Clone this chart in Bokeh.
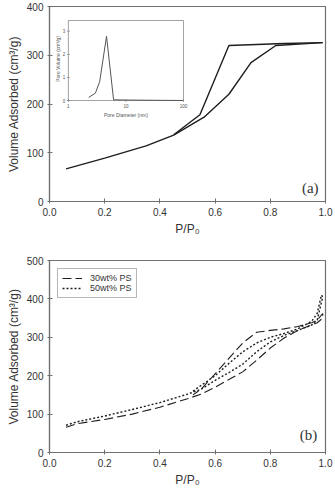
import math
from bokeh.plotting import figure
from bokeh.layouts import column
from bokeh.models import (Range1d, LogScale, Label, Legend, LegendItem,
                          FixedTicker, NumeralTickFormatter)
from bokeh.core.properties import value
from bokeh.embed import file_html
from bokeh.resources import INLINE

# ---------------- data ----------------
# (a) isotherm
ads_p = [0.06, 0.20, 0.35, 0.45, 0.56, 0.65, 0.73, 0.82, 0.99]
ads_v = [67, 89, 114, 136, 173, 220, 285, 320, 326]
des_p = [0.99, 0.85, 0.65, 0.545, 0.45]
des_v = [326, 324, 320, 178, 137]

# (a) inset: pore size distribution
pore_d = [2.25, 2.95, 3.5, 4.6, 6.1, 10, 30, 100]
pore_v = [0.13, 0.32, 0.82, 2.78, 0.03, 0.02, 0.01, 0.0]
inset_xticks = [1, 10, 100]
inset_xlabels = ["1", "10", "100"]
inset_yticks = [0, 1, 2, 3]
inset_ylabels = ["0", "1", "2", "3"]

# (b) isotherms
s30_p = [0.06, 0.10, 0.20, 0.30, 0.40, 0.50, 0.55, 0.60, 0.65, 0.70, 0.75, 0.80, 0.85, 0.90, 0.95, 0.97, 0.99,
         0.99, 0.97, 0.95, 0.90, 0.85, 0.80, 0.75, 0.70, 0.65, 0.60, 0.55, 0.52]
s30_v = [66, 75, 86, 100, 118, 140, 152, 170, 190, 210, 240, 272, 298, 318, 332, 338, 350,
         362, 345, 338, 328, 322, 318, 313, 285, 245, 205, 165, 150]
s50_p = [0.06, 0.10, 0.20, 0.30, 0.40, 0.50, 0.55, 0.60, 0.65, 0.70, 0.75, 0.80, 0.85, 0.90, 0.95, 0.97, 0.99,
         0.985, 0.97, 0.95, 0.90, 0.85, 0.80, 0.75, 0.70, 0.65, 0.60, 0.55, 0.52]
s50_v = [71, 80, 95, 112, 130, 152, 165, 188, 208, 230, 262, 288, 305, 318, 332, 345, 405,
         410, 362, 342, 322, 310, 300, 285, 262, 232, 200, 175, 160]
legend_labels = ["30wt% PS", "50wt% PS"]

x_ticks = [0.0, 0.2, 0.4, 0.6, 0.8, 1.0]
ya_ticks = [0, 100, 200, 300, 400]
yb_ticks = [0, 100, 200, 300, 400, 500]

FONT = "Liberation Sans"
AX = "#707070"
LINE = "#1e1e1e"


def style(p, yticks):
    p.xgrid.visible = False
    p.ygrid.visible = False
    p.outline_line_color = AX
    p.outline_line_width = 1.2
    p.background_fill_color = "white"
    p.border_fill_color = "white"
    p.xaxis.ticker = FixedTicker(ticks=x_ticks)
    p.xaxis.formatter = NumeralTickFormatter(format="0.0")
    p.yaxis.ticker = FixedTicker(ticks=yticks)
    p.xaxis.axis_label = "P/P₀"
    p.yaxis.axis_label = "Volume Adsorbed (cm³/g)"
    for ax in p.xaxis + p.yaxis:
        ax.axis_line_color = AX
        ax.axis_line_width = 1.2
        ax.major_tick_line_color = AX
        ax.major_tick_in = 3
        ax.major_tick_out = 2
        ax.minor_tick_line_color = None
        ax.major_label_text_font = FONT
        ax.major_label_text_font_size = "10px"
        ax.major_label_text_color = "#333333"
        ax.major_label_standoff = 4
        ax.axis_label_text_font = FONT
        ax.axis_label_text_font_size = "12px"
        ax.axis_label_text_font_style = "normal"
        ax.axis_label_text_color = "#333333"
        ax.axis_label_standoff = 3


# ---------------- figure (a) ----------------
p1 = figure(width=335, height=245, x_range=Range1d(0, 1), y_range=Range1d(0, 400),
            output_backend="svg", toolbar_location=None,
            min_border_left=47, min_border_right=10, min_border_top=6, min_border_bottom=44)
style(p1, ya_ticks)

p1.line(ads_p, ads_v, line_color=LINE, line_width=1.4)
p1.line(des_p, des_v, line_color=LINE, line_width=1.4)

# inset placement (pixel box inside the frame) -> extra ranges
frame_l, frame_r, frame_t, frame_b = 47, 325, 6, 201
in_l, in_r, in_t, in_b, in_y3 = 66, 182, 20, 100, 30.7
fw = frame_r - frame_l
fh = frame_b - frame_t
dec_per_px = 2.0 / (in_r - in_l)
xs = 0 - (in_l - frame_l) * dec_per_px
xe = xs + fw * dec_per_px
u_per_px = 3.0 / (in_b - in_y3)
ys = -(frame_b - in_b) * u_per_px
ye = ys + fh * u_per_px
box_top = (in_b - in_t) * u_per_px

p1.extra_x_ranges = {"inset": Range1d(10 ** xs, 10 ** xe)}
p1.extra_x_scales = {"inset": LogScale()}
p1.extra_y_ranges = {"inset": Range1d(ys, ye)}
kw = dict(x_range_name="inset", y_range_name="inset")

p1.quad(left=[1], right=[100], bottom=[0], top=[box_top], fill_color="white",
        line_color="#8a8a8a", line_width=0.8, **kw)
p1.line(pore_d, pore_v, line_color="#555555", line_width=1.0, **kw)
p1.rect(x=inset_xticks, y=[0] * 3, width=0.8, height=3, width_units="screen",
        height_units="screen", fill_color="#8a8a8a", line_color=None, **kw)
p1.rect(x=[1] * 4, y=inset_yticks, width=3, height=0.8, width_units="screen",
        height_units="screen", fill_color="#8a8a8a", line_color=None, **kw)
p1.text(x=inset_xticks, y=[0] * 3, text=inset_xlabels, y_offset=3, text_align="center",
        text_baseline="top", text_font=value(FONT), text_font_size="4.5px",
        text_color="#555555", **kw)
p1.text(x=[1] * 4, y=inset_yticks, text=inset_ylabels, x_offset=-3, text_align="right",
        text_baseline="middle", text_font=value(FONT), text_font_size="4.5px",
        text_color="#555555", **kw)
p1.text(x=[10], y=[0], text=["Pore Diameter (nm)"], y_offset=11, text_align="center",
        text_baseline="top", text_font=value(FONT), text_font_size="5px",
        text_color="#555555", **kw)
p1.text(x=[1], y=[1.8], text=["Pore Volume (cm³/g)"], x_offset=-7, angle=math.pi / 2,
        text_align="center", text_baseline="bottom", text_font=value(FONT),
        text_font_size="5px", text_color="#555555", **kw)

p1.add_layout(Label(x=0.975, y=12, text="(a)", text_align="right", text_baseline="bottom",
                    text_font="Liberation Serif", text_font_size="15px", text_color="#333333"))

# ---------------- figure (b) ----------------
p2 = figure(width=335, height=245, x_range=Range1d(0, 1), y_range=Range1d(0, 500),
            output_backend="svg", toolbar_location=None,
            min_border_left=49, min_border_right=10, min_border_top=15, min_border_bottom=38)
style(p2, yb_ticks)

r30 = p2.line(s30_p, s30_v, line_color=LINE, line_width=1.1, line_dash="9 4")
r50 = p2.line(s50_p, s50_v, line_color=LINE, line_width=1.4, line_dash="2 2")

leg = Legend(items=[LegendItem(label=legend_labels[0], renderers=[r30]),
                    LegendItem(label=legend_labels[1], renderers=[r50])],
             location="top_left")
leg.margin = 8
leg.padding = 4
leg.spacing = 0
leg.glyph_width = 20
leg.glyph_height = 10
leg.label_height = 10
leg.label_standoff = 8
leg.label_text_font = FONT
leg.label_text_font_size = "9px"
leg.label_text_color = "#333333"
leg.border_line_color = AX
leg.border_line_width = 1
leg.background_fill_alpha = 1
p2.add_layout(leg)

p2.add_layout(Label(x=0.97, y=24, text="(b)", text_align="right", text_baseline="bottom",
                    text_font="Liberation Serif", text_font_size="15px", text_color="#333333"))

layout = column(p1, p2, spacing=0)
open("out.html", "w").write(file_html(layout, INLINE))
